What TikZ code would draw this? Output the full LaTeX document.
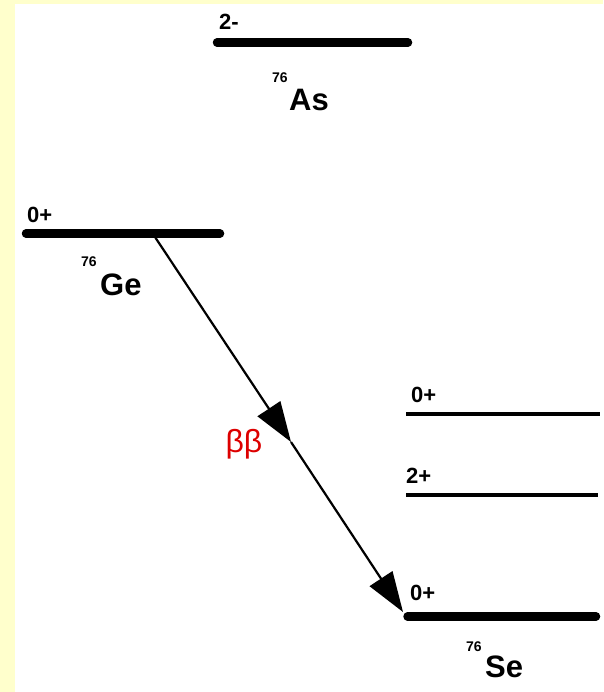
\documentclass[tikz,border=0pt]{standalone}
\usepackage{fontspec}
\setmainfont{Liberation Sans}
\usetikzlibrary{arrows.meta}
\definecolor{paleyellow}{HTML}{FFFFCC}
\definecolor{bbred}{HTML}{DD0000}
\begin{document}
\begin{tikzpicture}[x=1pt,y=-1pt,
    lvl/.style={line width=8.5pt,line cap=round},
    thinlvl/.style={line width=4pt},
    spin/.style={anchor=base west,inner sep=0pt,font=\fontsize{22}{26}\selectfont\bfseries},
    mass/.style={anchor=base west,inner sep=0pt,font=\fontsize{14}{16}\selectfont\bfseries},
    elem/.style={anchor=base west,inner sep=0pt,font=\fontsize{31}{36}\selectfont\bfseries},
    decay/.style={line width=2.2pt,-{Triangle[length=40pt,width=27pt]}}]
  \useasboundingbox (0,0) rectangle (603,692);
  \fill[paleyellow] (0,0) rectangle (603,692);
  \fill[white] (15,4) rectangle (603,692);
  % 76As
  \coordinate (as-l) at (217,42.5);
  \coordinate (as-r) at (408,42.5);
  \draw[lvl] (as-l) -- (as-r);
  \node[spin] (as-spin) at (219,30) {2-};
  \node[mass] (as-a) at (272,83) {76};
  \node[elem] (as) at (289,111) {As};
  % 76Ge
  \coordinate (ge-l) at (26,233.5);
  \coordinate (ge-r) at (220,233.5);
  \draw[lvl] (ge-l) -- (ge-r);
  \node[spin] (ge-spin) at (27,223) {0+};
  \node[mass] (ge-a) at (81,266) {76};
  \node[elem] (ge) at (100,295) {Ge};
  % 76Se
  \coordinate (se2-l) at (406,414);
  \coordinate (se2-r) at (600,414);
  \draw[thinlvl] (se2-l) -- (se2-r);
  \node[spin] (se2-spin) at (411,402) {0+};
  \coordinate (se1-l) at (406,494.5);
  \coordinate (se1-r) at (598,494.5);
  \draw[thinlvl] (se1-l) -- (se1-r);
  \node[spin] (se1-spin) at (406,483) {2+};
  \coordinate (se-l) at (407.5,616.5);
  \coordinate (se-r) at (596,616.5);
  \draw[lvl] (se-l) -- (se-r);
  \node[spin] (se-spin) at (410,600) {0+};
  \node[mass] (se-a) at (466,651) {76};
  \node[elem] (se) at (485,677) {Se};
  % double beta decay
  \coordinate (ge-b) at (153,234);
  \coordinate (mid) at (291,442);
  \coordinate (se-t) at (403,612);
  \draw[decay] (ge-b) -- (mid);
  \draw[decay] (mid) -- (se-t);
  \node[text=bbred,font=\fontsize{32}{36}\selectfont] (bb) at (244,444) {ββ};
\end{tikzpicture}
\end{document}
